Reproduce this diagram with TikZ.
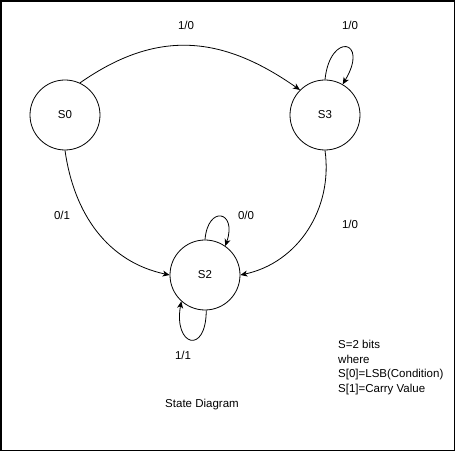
\documentclass[tikz,border=0pt]{standalone}
\usepackage{fontspec}
\setmainfont{Liberation Sans}
\usetikzlibrary{arrows.meta}
\tikzset{
	state/.style={draw, circle, line width=0.8pt, minimum size=70pt, inner sep=0pt, font=\fontsize{11.5}{14.5}\selectfont},
	lbl/.style={font=\fontsize{11.5}{14.5}\selectfont, inner sep=0pt},
	trans/.style={line width=0.8pt, -{Stealth[length=7pt,width=6pt,inset=2pt]}}
}

\begin{document}
\begin{tikzpicture}[x=1pt, y=1pt]
			%%%%% START %%%%%
			
			\useasboundingbox (0, 0) rectangle (456, 452);
			\draw[line width=1.2pt] (1, 1.5) rectangle (454.5, 451);
			
			\node[state] (s0) at (65, 337) {S0};
			\node[state] (s3) at (325, 337) {S3};
			\node[state] (s2) at (205, 177) {S2};
			
			\draw[trans] (s0.65) to[out=35, in=145, looseness=1.1] (s3.135);
			\draw[trans] (s3.north) .. controls +(5, 48) and +(27, 45) .. (s3.60);
			\draw[trans] (s0.south) to[out=-82, in=168] (s2.west);
			\draw[trans] (s3.south) to[out=-82, in=12] (s2.east);
			\draw[trans] (s2.north) .. controls +(3, 35) and +(12, 35) .. (s2.55);
			\draw[trans] (s2.-88) .. controls +(0, -45) and +(-8, -45) .. (s2.228);
			
			\node[lbl] (l03) at (186, 427) {1/0};
			\node[lbl] (l33) at (350, 427) {1/0};
			\node[lbl] (l02) at (62, 237) {0/1};
			\node[lbl] (l32) at (350, 228) {1/0};
			\node[lbl] (l22a) at (246, 237) {0/0};
			\node[lbl] (l22b) at (183, 97) {1/1};
			
			\node[lbl, anchor=north west, align=left] (note) at (338, 112) {S=2 bits\\where\\S[0]=LSB(Condition)\\S[1]=Carry Value};
			\node[lbl] (title) at (202, 47) {State Diagram};
			
			%%%%% END %%%%%
		\end{tikzpicture}
\end{document}
